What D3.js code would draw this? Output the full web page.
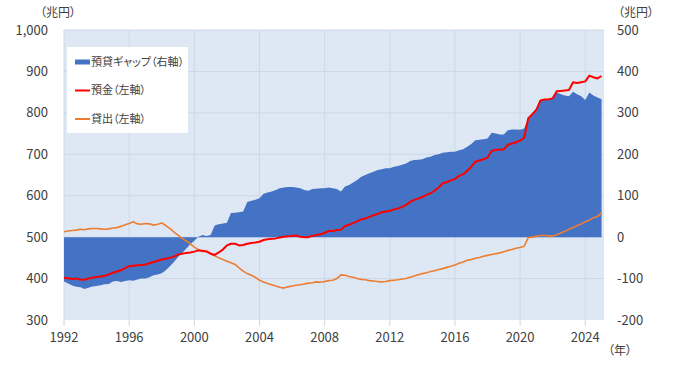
<!DOCTYPE html>
<html><head><meta charset="utf-8">
<script src="https://cdn.jsdelivr.net/npm/d3@7"></script>
<style>
body{margin:0;background:#fff;}
text{font-family:"Noto Sans CJK JP","Noto Sans",sans-serif;fill:#404040;}
.jp{font-feature-settings:"palt";}
</style></head><body>
<svg id="c" width="680" height="366"></svg>
<script>
// Quarterly observations starting 1992 Q1
const startYear = 1992;
const stepYears = 0.25;

// 預金 (left axis, 兆円)
const deposits = [
402,401,399,400, 398,397,400,402, 404,405,407,410, 414,417,420,425,
430,431,432,433, 434,437,440,443, 446,448,450,453, 458,460,462,463,
465,468,467,465, 460,457,463,470, 480,484,484,480, 481,484,486,487,
489,493,495,496, 497,499,501,502, 503,504,501,500, 500,503,505,507,
510,515,515,517, 518,527,530,534, 538,543,545,549, 553,556,560,562,
563,567,569,573, 578,585,590,593, 597,602,606,612, 620,630,633,637,
640,648,652,660, 670,682,685,688, 692,708,711,711, 712,723,726,729,
733,740,787,797, 808,830,832,833, 835,852,853,854, 855,874,872,874,
876,890,886,883, 889];

// 貸出 (left axis, 兆円)
const loans = [
513,515,516,517, 519,518,520,521, 521,520,519,520, 522,523,526,530,
533,537,532,531, 533,532,529,531, 534,528,521,512, 505,497,491,484,
476,470,465,467, 461,455,450,446, 442,438,434,426, 418,412,408,403,
396,392,388,385, 382,379,377,380, 382,384,385,387, 389,390,392,391,
393,395,396,400, 409,408,405,403, 400,398,397,395, 394,393,392,393,
395,396,397,399, 400,403,406,409, 412,414,417,419, 422,424,427,430,
433,437,440,444, 446,449,451,454, 456,458,460,462, 465,468,470,473,
475,478,499,500, 502,504,504,503, 503,506,510,514, 519,523,528,532,
537,541,547,550, 559];

// 預貸ギャップ (right axis, 兆円)
const gap = [
-107,-112,-117,-120, -121,-125,-122,-119, -118,-116,-114,-113, -107,-106,-108,-106,
-104,-105,-102,-100, -100,-97,-92,-90, -87,-80,-70,-60, -48,-38,-28,-17,
-9,1,5,3, 5,28,31,33, 35,58,59,60, 62,85,88,90,
94,105,108,110, 114,118,120,121, 121,120,118,114, 112,116,117,118,
118,120,118,116, 110,122,126,132, 138,146,150,154, 158,162,164,166,
166,170,172,175, 178,184,186,187, 188,192,194,198, 200,204,205,206,
206,210,212,218, 225,234,235,236, 238,252,250,248, 248,258,260,260,
259,262,288,297, 306,330,331,332, 336,349,345,342, 340,351,345,340,
331,349,342,337, 333];

const leftTicks = [300,400,500,600,700,800,900,1000];
const rightTicks = [-200,-100,0,100,200,300,400,500];
const yearTicks = [1992,1996,2000,2004,2008,2012,2016,2020,2024];
const legendLabels = ["預貸ギャップ（右軸）","預金（左軸）","貸出（左軸）"];
const unitLabel = "（兆円）";
const yearLabel = "（年）";

const colors = {gap:"#4472c4", dep:"#ff0000", loan:"#ed7d31", bg:"#dee8f4", grid:"#cdd8e6"};

const svg = d3.select("#c");
const L = 64, R = 604, T = 30, B = 320;
const x = d3.scaleLinear().domain([1992, 2025.15]).range([L, R]);
const yL = d3.scaleLinear().domain([300, 1000]).range([B, T]);
const yR = d3.scaleLinear().domain([-200, 500]).range([B, T]);
const t = i => startYear + i * stepYears;

svg.append("rect").attr("x", L).attr("y", T).attr("width", R - L).attr("height", B - T).attr("fill", colors.bg);

// grid
svg.append("g").selectAll("line").data(leftTicks.slice(1)).join("line")
  .attr("x1", L).attr("x2", R).attr("y1", d => yL(d)).attr("y2", d => yL(d))
  .attr("stroke", colors.grid).attr("stroke-width", 1);
svg.append("g").selectAll("line").data(yearTicks).join("line")
  .attr("x1", d => x(d)).attr("x2", d => x(d)).attr("y1", T).attr("y2", B + 6)
  .attr("stroke", colors.grid).attr("stroke-width", 1);

// gap area
const area = d3.area().x((d, i) => x(t(i))).y0(yR(0)).y1(d => yR(d));
svg.append("path").datum(gap).attr("d", area).attr("fill", colors.gap);

// lines
const lineL = d3.line().x((d, i) => x(t(i))).y(d => yL(d));
svg.append("path").datum(loans).attr("d", lineL).attr("fill", "none")
  .attr("stroke", colors.loan).attr("stroke-width", 1.6).attr("stroke-linejoin", "round");
svg.append("path").datum(deposits).attr("d", lineL).attr("fill", "none")
  .attr("stroke", colors.dep).attr("stroke-width", 2).attr("stroke-linejoin", "round");

// axes labels
const fmt = d3.format(",");
svg.append("g").selectAll("text").data(leftTicks).join("text")
  .attr("x", 48).attr("y", d => yL(d)).attr("dy", "0.35em").attr("text-anchor", "end")
  .attr("font-size", 13).text(d => fmt(d));
svg.append("g").selectAll("text").data(rightTicks).join("text")
  .attr("x", 617).attr("y", d => yR(d)).attr("dy", "0.35em").attr("text-anchor", "start")
  .attr("font-size", 13).text(d => d);
svg.append("g").selectAll("text").data(yearTicks).join("text")
  .attr("x", d => x(d)).attr("y", 337).attr("dy", "0.35em").attr("text-anchor", "middle")
  .attr("font-size", 13).text(d => d);

svg.append("text").attr("class", "jp").attr("x", 40).attr("y", 13).attr("dy", "0.35em")
  .attr("font-size", 12).text(unitLabel);
svg.append("text").attr("class", "jp").attr("x", 618).attr("y", 13).attr("dy", "0.35em")
  .attr("font-size", 12).text(unitLabel);
svg.append("text").attr("class", "jp").attr("x", 608).attr("y", 351).attr("dy", "0.35em")
  .attr("font-size", 12).text(yearLabel);

// legend
const lg = svg.append("g");
lg.append("rect").attr("x", 67).attr("y", 47).attr("width", 121).attr("height", 86).attr("fill", "#fff");
const ly = [62, 90.5, 119];
lg.append("rect").attr("x", 75).attr("y", ly[0] - 2.5).attr("width", 15).attr("height", 5).attr("fill", colors.gap);
lg.append("line").attr("x1", 75).attr("x2", 90).attr("y1", ly[1]).attr("y2", ly[1]).attr("stroke", colors.dep).attr("stroke-width", 2);
lg.append("line").attr("x1", 75).attr("x2", 90).attr("y1", ly[2]).attr("y2", ly[2]).attr("stroke", colors.loan).attr("stroke-width", 2);
lg.selectAll("text.lab").data(legendLabels).join("text").attr("class", "jp lab")
  .attr("x", 91).attr("y", (d, i) => ly[i]).attr("dy", "0.35em").attr("font-size", 11).text(d => d);
</script>
</body></html>
